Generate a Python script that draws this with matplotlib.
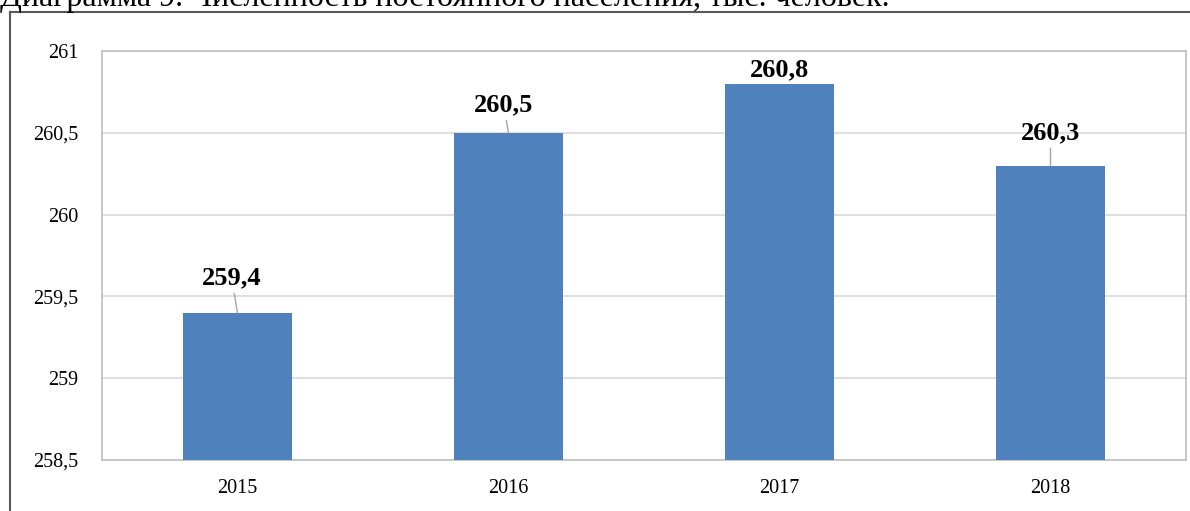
import matplotlib
matplotlib.use("Agg")
import matplotlib.pyplot as plt
from matplotlib.lines import Line2D

years = ["2015", "2016", "2017", "2018"]
values = [259.4, 260.5, 260.8, 260.3]
value_labels = ["259,4", "260,5", "260,8", "260,3"]
y_ticks = [258.5, 259, 259.5, 260, 260.5, 261]
y_tick_labels = ["258,5", "259", "259,5", "260", "260,5", "261"]
title = "Диаграмма 9. Численность постоянного населения, тыс. человек."

# label offsets (pixels) and leader-line flags
label_dx = [-6, -5, 0, 0]
label_dy = [35, 28, 14, 33]
leaders = [True, True, False, True]

plt.rcParams['font.family'] = ['Liberation Serif', 'DejaVu Serif']

W, H = 1190, 511
fig = plt.figure(figsize=(W / 100, H / 100), dpi=100)
ax = fig.add_axes([102 / W, (H - 460) / H, (1186 - 102) / W, (460 - 51) / H])

x = list(range(len(years)))
ax.bar(x, values, width=0.4, color="#4F81BD", zorder=3)
ax.set_xlim(-0.5, len(years) - 0.5)
ax.set_ylim(258.5, 261)
ax.set_yticks(y_ticks)
ax.set_yticklabels(y_tick_labels)
ax.set_xticks(x)
ax.set_xticklabels(years)
ax.tick_params(axis='both', length=0, labelsize=14.5, colors='#000000')
ax.tick_params(axis='y', pad=17)
ax.tick_params(axis='x', pad=14)
ax.grid(axis='y', color='#D9D9D9', lw=1.2, zorder=0)
for s in ax.spines.values():
    s.set_color('#BFBFBF')
    s.set_linewidth(1.2)

for i, (v, lab) in enumerate(zip(values, value_labels)):
    kw = {}
    if leaders[i]:
        kw['arrowprops'] = dict(arrowstyle='-', color='#A6A6A6', lw=1,
                                shrinkA=1, shrinkB=0)
    ax.annotate(lab, xy=(i, v), xytext=(label_dx[i], label_dy[i]),
                textcoords='offset pixels', ha='center', va='center',
                fontsize=19, fontweight='bold', color='#000000', zorder=5, **kw)

# outer frame
fy = 1 - 12 / H
fx = 10 / W
fig.add_artist(Line2D([fx, 1], [fy, fy], transform=fig.transFigure,
                      color='#595959', lw=1.5))
fig.add_artist(Line2D([fx, fx], [0, fy], transform=fig.transFigure,
                      color='#595959', lw=1.5))

fig.text(0, 1 - 6 / H, title, ha='left', va='baseline', fontsize=23,
         color='#000000')

fig.savefig("out.png", dpi=100)
